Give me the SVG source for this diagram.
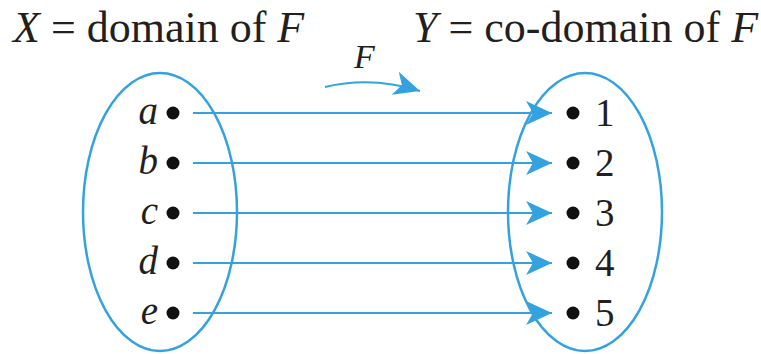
<svg xmlns="http://www.w3.org/2000/svg" width="761" height="354" viewBox="0 0 761 354">
<style>
.t{font-family:'Liberation Serif','DejaVu Serif',serif;fill:#231f20}
.i{font-style:italic}
.set{fill:none;stroke:#35a2e0;stroke-width:2.5}
.map{fill:none;stroke:#35a2e0;stroke-width:2}
.dot{fill:#111}
</style>
<defs>
<marker id="ah" viewBox="-27 -13 29 26" markerUnits="userSpaceOnUse" markerWidth="29" markerHeight="26" refX="0" refY="0" orient="auto">
<path d="M0,0 L-26,-12 L-19,0 L-26,12 Z" fill="#35a2e0"/>
</marker>
</defs>
<g id="title-x"><text class="t" x="13" y="42" font-size="44"><tspan class="i">X</tspan> = domain of <tspan class="i">F</tspan></text></g>
<g id="title-y"><text class="t" x="413" y="42" font-size="44"><tspan class="i">Y</tspan> = co-domain of <tspan class="i">F</tspan></text></g>
<g id="F-label"><text class="t i" x="354" y="68" font-size="34">F</text></g>
<g id="set-x"><ellipse class="set" cx="160" cy="212" rx="77" ry="139"/></g>
<g id="set-y"><ellipse class="set" cx="585" cy="212" rx="77" ry="139"/></g>
<g id="x-a"><circle class="dot" cx="173" cy="113" r="6.5"/><text class="t i" x="158" y="124" font-size="39" text-anchor="end">a</text></g>
<g id="x-b"><circle class="dot" cx="173" cy="163" r="6.5"/><text class="t i" x="158" y="174" font-size="39" text-anchor="end">b</text></g>
<g id="x-c"><circle class="dot" cx="173" cy="213" r="6.5"/><text class="t i" x="158" y="224" font-size="39" text-anchor="end">c</text></g>
<g id="x-d"><circle class="dot" cx="173" cy="263" r="6.5"/><text class="t i" x="158" y="274" font-size="39" text-anchor="end">d</text></g>
<g id="x-e"><circle class="dot" cx="173" cy="313" r="6.5"/><text class="t i" x="158" y="324" font-size="39" text-anchor="end">e</text></g>
<g id="y-1"><circle class="dot" cx="573" cy="113" r="6.5"/><text class="t" x="595" y="126" font-size="39">1</text></g>
<g id="y-2"><circle class="dot" cx="573" cy="163" r="6.5"/><text class="t" x="595" y="176" font-size="39">2</text></g>
<g id="y-3"><circle class="dot" cx="573" cy="213" r="6.5"/><text class="t" x="595" y="226" font-size="39">3</text></g>
<g id="y-4"><circle class="dot" cx="573" cy="263" r="6.5"/><text class="t" x="595" y="276" font-size="39">4</text></g>
<g id="y-5"><circle class="dot" cx="573" cy="313" r="6.5"/><text class="t" x="595" y="326" font-size="39">5</text></g>
<g id="connectors">
<path class="map" d="M325,87 Q372,76 420,91" marker-end="url(#ah)"/>
<line class="map" x1="193" y1="113" x2="552" y2="113" marker-end="url(#ah)"/>
<line class="map" x1="193" y1="163" x2="552" y2="163" marker-end="url(#ah)"/>
<line class="map" x1="193" y1="213" x2="552" y2="213" marker-end="url(#ah)"/>
<line class="map" x1="193" y1="263" x2="552" y2="263" marker-end="url(#ah)"/>
<line class="map" x1="193" y1="313" x2="552" y2="313" marker-end="url(#ah)"/>
</g>
</svg>
